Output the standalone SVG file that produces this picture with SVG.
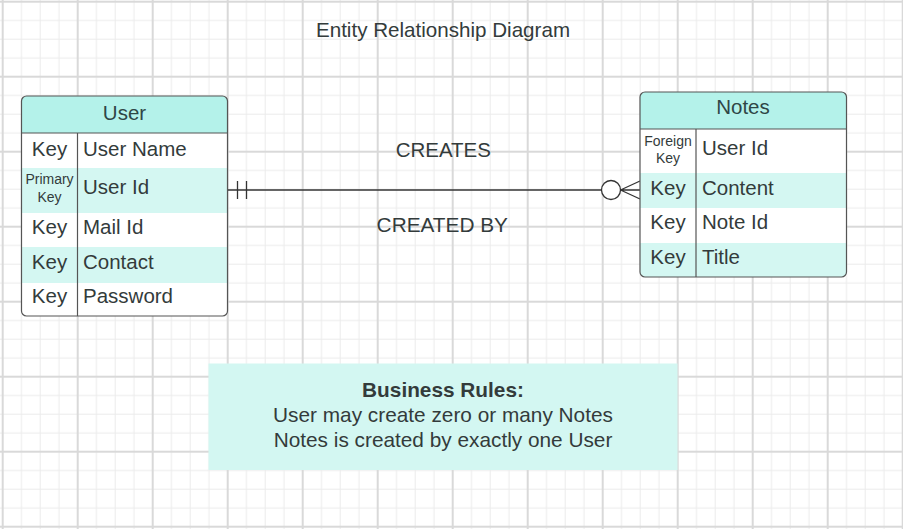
<svg xmlns="http://www.w3.org/2000/svg" width="903" height="529" viewBox="0 0 903 529">
<style>
text{font-family:"Liberation Sans",Arial,sans-serif;fill:#333b3b;}
.t20{font-size:20.5px;}
.hd{font-size:20.5px;text-anchor:middle;fill:#2f4646;}
.key{font-size:20.5px;text-anchor:middle;}
.sm{font-size:14px;text-anchor:middle;}
.mid{text-anchor:middle;}
.rl{font-size:20.8px;text-anchor:middle;}
.outline{fill:none;stroke:#555;stroke-width:1.2;}
.hfill{fill:#b4f2ea;}
.rfill{fill:#d4f7f2;}
.ln{stroke:#555;stroke-width:1.2;fill:none;}
.conn{stroke:#333;stroke-width:1.3;fill:none;}
</style>
<defs>
<pattern id="grid" patternUnits="userSpaceOnUse" x="2.7" y="1.7" width="75" height="75">
<path d="M18.75 0V75M37.5 0V75M56.25 0V75M0 18.75H75M0 37.5H75M0 56.25H75" stroke="#ebebeb" stroke-width="1"/>
<path d="M0 0V75M75 0V75M0 0H75M0 75H75" stroke="#d9d9d9" stroke-width="2"/>
</pattern>
<clipPath id="cu"><rect x="21.5" y="96" width="206" height="220" rx="5"/></clipPath>
<clipPath id="cn"><rect x="640" y="92" width="206.5" height="185" rx="5"/></clipPath>
</defs>
<rect width="903" height="529" fill="#fff"/>
<rect width="903" height="529" fill="url(#grid)"/>
<text class="mid" x="443" y="36.7" style="font-size:20.6px">Entity Relationship Diagram</text>

<g id="connectors">
<line class="conn" x1="228" y1="190" x2="601.5" y2="190"/>
<line class="conn" x1="237.5" y1="181" x2="237.5" y2="199"/>
<line class="conn" x1="246.5" y1="181" x2="246.5" y2="199"/>
<circle class="conn" cx="611" cy="190" r="9.5" style="fill:#fff"/>
<path class="conn" d="M620.5 190L640 181M620.5 190H640M620.5 190L640 199"/>
<text class="t20 mid" x="443.3" y="156.7">CREATES</text>
<text class="mid" x="442.3" y="231.7" style="font-size:20.8px">CREATED BY</text>
</g>

<g id="user">
<g clip-path="url(#cu)">
<rect x="21.5" y="96" width="206" height="220" fill="#fff"/>
<rect class="hfill" x="21.5" y="96" width="206" height="37"/>
<rect class="rfill" x="21.5" y="168" width="206" height="45"/>
<rect class="rfill" x="21.5" y="247" width="206" height="36"/>
</g>
<line class="ln" x1="21.5" y1="133" x2="227.5" y2="133"/>
<line class="ln" x1="77.5" y1="133" x2="77.5" y2="316"/>
<rect class="outline" x="21.5" y="96" width="206" height="220" rx="5"/>
<text class="hd" x="124.5" y="120">User</text>
<text class="key" x="49.5" y="156">Key</text>
<text class="t20" x="83" y="156">User Name</text>
<text class="sm" x="49.5" y="184.3">Primary</text>
<text class="sm" x="49.5" y="201.7">Key</text>
<text class="t20" x="83" y="194.3">User Id</text>
<text class="key" x="49.5" y="234">Key</text>
<text class="t20" x="83" y="234">Mail Id</text>
<text class="key" x="49.5" y="269.3">Key</text>
<text class="t20" x="83" y="269.3">Contact</text>
<text class="key" x="49.5" y="303.3">Key</text>
<text class="t20" x="83" y="303.3">Password</text>
</g>

<g id="notes">
<g clip-path="url(#cn)">
<rect x="640" y="92" width="206.5" height="185" fill="#fff"/>
<rect class="hfill" x="640" y="92" width="206.5" height="37"/>
<rect class="rfill" x="640" y="173" width="206.5" height="35"/>
<rect class="rfill" x="640" y="243" width="206.5" height="34"/>
</g>
<line class="ln" x1="640" y1="129" x2="846.5" y2="129"/>
<line class="ln" x1="696" y1="129" x2="696" y2="277"/>
<rect class="outline" x="640" y="92" width="206.5" height="185" rx="5"/>
<text class="hd" x="743" y="114">Notes</text>
<text class="sm" x="668" y="145.7">Foreign</text>
<text class="sm" x="668" y="163.3">Key</text>
<text class="t20" x="702" y="155">User Id</text>
<text class="key" x="668" y="195">Key</text>
<text class="t20" x="702" y="195">Content</text>
<text class="key" x="668" y="229.3">Key</text>
<text class="t20" x="702" y="229.3">Note Id</text>
<text class="key" x="668" y="264">Key</text>
<text class="t20" x="702" y="264">Title</text>
</g>

<g id="rules">
<rect x="208.5" y="363.5" width="469" height="106.5" fill="#d3f7f2"/>
<text class="rl" x="443" y="396.7" font-weight="bold">Business Rules:</text>
<text class="rl" x="443" y="421.7">User may create zero or many Notes</text>
<text class="rl" x="443" y="446.7">Notes is created by exactly one User</text>
</g>
</svg>
